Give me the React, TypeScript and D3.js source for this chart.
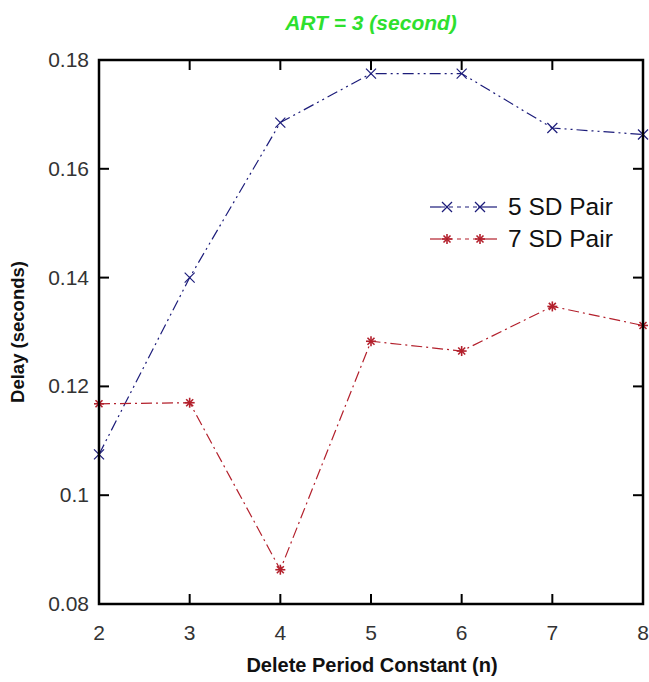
import * as d3 from 'd3'

const N_VALUES = [2, 3, 4, 5, 6, 7, 8]
const SD5 = [0.1075, 0.14, 0.1685, 0.1775, 0.1775, 0.1675, 0.1663]
const SD7 = [0.1168, 0.117, 0.0863, 0.1283, 0.1265, 0.1347, 0.1312]
const Y_TICKS = [0.08, 0.1, 0.12, 0.14, 0.16, 0.18]
const SERIES = [
  { name: '5 SD Pair', values: SD5, color: '#1c1c7a', dash: '11,4,2,4,2,4', marker: 'x' },
  { name: '7 SD Pair', values: SD7, color: '#b3202c', dash: '11,4,2,4', marker: 'star' },
]

const W = 649
const H = 682
const left = 99
const right = 643
const top = 60
const bottom = 604

function Marker({ cx, cy, kind, color }: { cx: number; cy: number; kind: string; color: string }) {
  const r = 5
  if (kind === 'x') {
    return (
      <g stroke={color} strokeWidth={1.2}>
        <line x1={cx - r} y1={cy - r} x2={cx + r} y2={cy + r} />
        <line x1={cx - r} y1={cy + r} x2={cx + r} y2={cy - r} />
      </g>
    )
  }
  return (
    <g stroke={color} strokeWidth={1.6}>
      <line x1={cx - r} y1={cy} x2={cx + r} y2={cy} />
      <line x1={cx} y1={cy - r} x2={cx} y2={cy + r} />
      <line x1={cx - 3.5} y1={cy - 3.5} x2={cx + 3.5} y2={cy + 3.5} />
      <line x1={cx - 3.5} y1={cy + 3.5} x2={cx + 3.5} y2={cy - 3.5} />
    </g>
  )
}

export default function App() {
  const x = d3.scaleLinear().domain([2, 8]).range([left, right])
  const y = d3.scaleLinear().domain([0.08, 0.18]).range([bottom, top])
  const line = d3
    .line<number>()
    .x((_, i) => x(N_VALUES[i]))
    .y((d) => y(d))

  const font = 'Arial, "Liberation Sans", sans-serif'
  const tickLen = 10

  return (
    <svg
      width={W}
      height={H}
      style={{ position: 'absolute', left: 0, top: 0, background: '#fff' }}
      fontFamily={font}
    >
      {/* title */}
      <text
        x={371}
        y={30}
        textAnchor="middle"
        fontSize={21}
        fontWeight="bold"
        fontStyle="italic"
        fill="#2ee02e"
      >
        ART = 3 (second)
      </text>

      {/* series */}
      {SERIES.map((s) => (
        <g key={s.name}>
          <path d={line(s.values) ?? ''} fill="none" stroke={s.color} strokeWidth={1.2} strokeDasharray={s.dash} />
          {s.values.map((v, i) => (
            <Marker key={i} cx={x(N_VALUES[i])} cy={y(v)} kind={s.marker} color={s.color} />
          ))}
        </g>
      ))}

      {/* ticks */}
      <g stroke="#000" strokeWidth={2}>
        {N_VALUES.slice(1, -1).map((n) => (
          <g key={n}>
            <line x1={x(n)} x2={x(n)} y1={bottom} y2={bottom - tickLen} />
            <line x1={x(n)} x2={x(n)} y1={top} y2={top + tickLen} />
          </g>
        ))}
        {Y_TICKS.slice(1, -1).map((t) => (
          <g key={t}>
            <line x1={left} x2={left + tickLen} y1={y(t)} y2={y(t)} />
            <line x1={right} x2={right - tickLen} y1={y(t)} y2={y(t)} />
          </g>
        ))}
      </g>

      {/* frame */}
      <rect x={left} y={top} width={right - left} height={bottom - top} fill="none" stroke="#000" strokeWidth={2.5} />

      {/* tick labels */}
      <g fontSize={21} fill="#333">
        {N_VALUES.map((n) => (
          <text key={n} x={x(n)} y={bottom + 36} textAnchor="middle">
            {n}
          </text>
        ))}
        {Y_TICKS.map((t) => (
          <text key={t} x={left - 10} y={y(t) + 7} textAnchor="end">
            {d3.format('~g')(t)}
          </text>
        ))}
      </g>

      {/* axis titles */}
      <text x={372} y={672} textAnchor="middle" fontSize={20} fontWeight="bold" fill="#111">
        Delete Period Constant (n)
      </text>
      <text
        transform={`translate(24, ${(top + bottom) / 2}) rotate(-90)`}
        textAnchor="middle"
        fontSize={18.5}
        fontWeight="bold"
        fill="#111"
      >
        Delay (seconds)
      </text>

      {/* legend */}
      {SERIES.map((s, i) => {
        const ly = 207 + i * 32
        return (
          <g key={s.name}>
            <line x1={430} x2={441} y1={ly} y2={ly} stroke={s.color} strokeWidth={1.2} />
            <line x1={441} x2={478} y1={ly} y2={ly} stroke={s.color} strokeWidth={1.2} strokeDasharray="4,4" />
            <line x1={478} x2={497} y1={ly} y2={ly} stroke={s.color} strokeWidth={1.2} />
            <Marker cx={447} cy={ly} kind={s.marker} color={s.color} />
            <Marker cx={480} cy={ly} kind={s.marker} color={s.color} />
            <text x={508} y={ly + 8} fontSize={24.5} fill="#111">
              {s.name}
            </text>
          </g>
        )
      })}
    </svg>
  )
}
